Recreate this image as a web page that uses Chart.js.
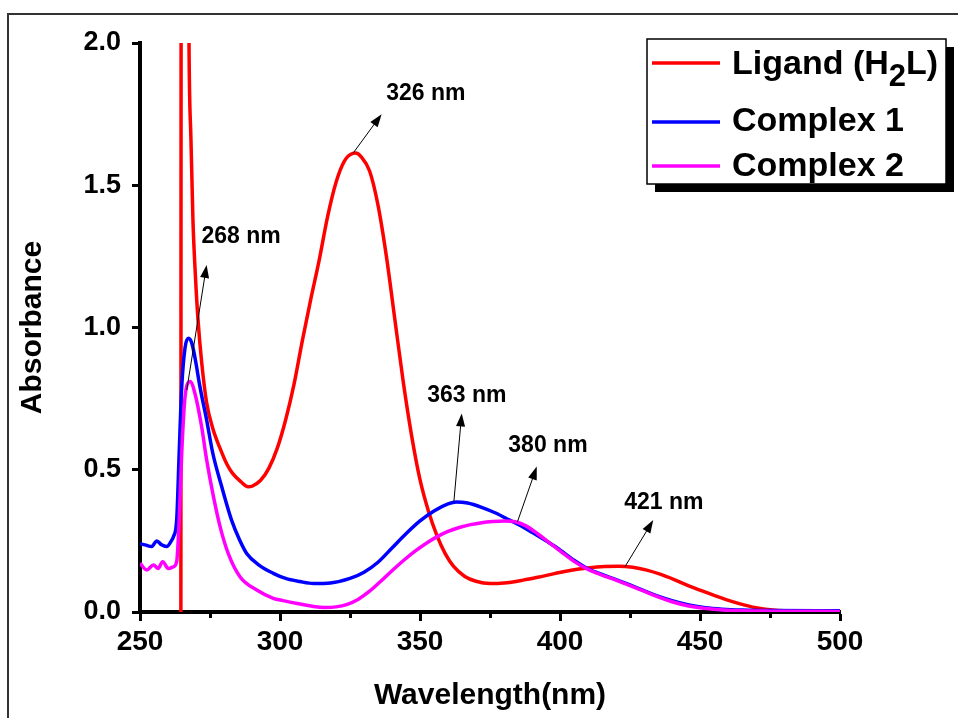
<!DOCTYPE html>
<html>
<head>
<meta charset="utf-8">
<script src="https://cdn.jsdelivr.net/npm/chart.js@4/dist/chart.umd.min.js"></script>
<style>
  html, body { margin: 0; padding: 0; background: #fff; }
  #wrap { width: 958px; height: 718px; position: relative; }
</style>
</head>
<body>
<div id="wrap"><canvas id="c" width="958" height="718"></canvas></div>
<script>
// ---------- Data ----------
const ligandLabel = 'Ligand (H2L)';
const complex1Label = 'Complex 1';
const complex2Label = 'Complex 2';

const ligandX = [264.6, 264.7, 267.2, 267.5, 268.2, 268.9, 269.8, 270.7, 272, 273.8, 276, 278.6, 281, 283, 286, 288.6, 290, 293, 296, 299, 302, 305, 308, 311, 314, 317, 320, 323, 326, 327, 329, 332, 335, 338, 341, 344, 347, 350, 353, 356, 359, 362, 366, 370, 375, 380, 386.8, 392, 398, 404, 410, 416, 421, 426, 431, 436, 441, 446, 451, 456, 461, 466, 471, 476, 485, 500];
const ligandY = [-0.02, 2.6, 2.6, 2.0, 1.66, 1.38, 1.18, 1.03, 0.88, 0.735, 0.645, 0.575, 0.52, 0.488, 0.458, 0.44, 0.442, 0.462, 0.505, 0.575, 0.675, 0.80, 0.955, 1.10, 1.237, 1.39, 1.51, 1.585, 1.612, 1.613, 1.60, 1.55, 1.43, 1.25, 1.03, 0.81, 0.62, 0.465, 0.355, 0.27, 0.205, 0.16, 0.125, 0.108, 0.10, 0.102, 0.112, 0.122, 0.135, 0.147, 0.155, 0.16, 0.161, 0.157, 0.147, 0.132, 0.113, 0.092, 0.073, 0.055, 0.038, 0.024, 0.013, 0.007, 0.003, 0.002];

const complex1X = [250, 251.8, 254.2, 256, 257.7, 259.5, 261.3, 261.9, 263.1, 264, 264.9, 266.1, 267.3, 268.5, 269.8, 271.4, 273.8, 276, 279.2, 282.7, 285.5, 288.1, 292.5, 297.6, 302, 307.1, 312, 318, 325, 330, 335, 340, 345, 350, 355, 360, 363, 367, 372, 377, 382, 386, 390, 395, 399, 405, 410, 415, 420, 425, 430, 435, 440, 446, 452, 458, 465, 475, 500];
const complex1Y = [0.24, 0.236, 0.23, 0.25, 0.236, 0.23, 0.252, 0.264, 0.323, 0.56, 0.79, 0.93, 0.962, 0.945, 0.885, 0.792, 0.675, 0.558, 0.44, 0.323, 0.255, 0.206, 0.165, 0.136, 0.118, 0.107, 0.10, 0.102, 0.118, 0.14, 0.175, 0.225, 0.275, 0.32, 0.355, 0.38, 0.387, 0.383, 0.368, 0.348, 0.323, 0.303, 0.28, 0.25, 0.225, 0.182, 0.152, 0.132, 0.114, 0.095, 0.075, 0.056, 0.04, 0.025, 0.015, 0.01, 0.007, 0.005, 0.004];

const complex2X = [250, 252.4, 254.8, 256.5, 258.1, 260.1, 261.9, 263.1, 264, 264.9, 266.1, 267.9, 269.6, 272, 273.8, 276.2, 278.6, 281.5, 285.7, 291.7, 297.6, 301, 307.1, 312, 316, 320, 324, 328, 332, 336, 340, 344, 348, 352, 356, 360, 364, 368, 372, 376, 380, 384, 388, 392, 396, 400, 405, 410, 415, 420, 425, 430, 435, 440, 446, 452, 458, 465, 475, 500];
const complex2Y = [0.171, 0.148, 0.165, 0.153, 0.177, 0.153, 0.159, 0.177, 0.324, 0.558, 0.757, 0.81, 0.769, 0.652, 0.535, 0.407, 0.30, 0.206, 0.124, 0.077, 0.048, 0.04, 0.028, 0.019, 0.016, 0.018, 0.027, 0.045, 0.073, 0.108, 0.145, 0.18, 0.212, 0.24, 0.264, 0.283, 0.297, 0.307, 0.314, 0.318, 0.32, 0.317, 0.302, 0.275, 0.245, 0.215, 0.178, 0.15, 0.13, 0.112, 0.093, 0.073, 0.053, 0.036, 0.021, 0.012, 0.007, 0.004, 0.003, 0.002];

const xTicks = [250, 300, 350, 400, 450, 500];
const xMinorTicks = [275, 325, 375, 425, 475];
const yTicks = [0.0, 0.5, 1.0, 1.5, 2.0];

// peak annotations: label, text position, arrow tail, arrow head (data units)
const peakLabels = ['268 nm', '326 nm', '363 nm', '380 nm', '421 nm'];
const peakTextX = [286.1, 352.1, 366.7, 395.7, 437.1];
const peakTextY = [1.318, 1.821, 0.762, 0.583, 0.383];
const arrowTailX = [266.7, 326.2, 362.1, 384.8, 423.2];
const arrowTailY = [0.78, 1.614, 0.388, 0.317, 0.159];
const arrowHeadX = [273.8, 336.3, 364.9, 391.7, 433.3];
const arrowHeadY = [1.22, 1.75, 0.698, 0.511, 0.323];

// ---------- Helpers ----------
const pts = (xs, ys) => xs.map((x, i) => ({ x: x, y: ys[i] }));
const FONT = '"Liberation Sans", Arial, Helvetica, sans-serif';

const framePlugin = {
  id: 'frame',
  beforeDraw(chart) {
    const ctx = chart.ctx;
    ctx.save();
    ctx.fillStyle = '#fff';
    ctx.fillRect(0, 0, chart.width, chart.height);
    ctx.strokeStyle = '#333';
    ctx.lineWidth = 2;
    ctx.strokeRect(8, 14, chart.width + 20, chart.height + 20);
    ctx.restore();
  }
};

const extrasPlugin = {
  id: 'extras',
  afterDraw(chart) {
    const ctx = chart.ctx;
    const xs = chart.scales.x, ys = chart.scales.y;
    ctx.save();
    // minor ticks on x axis
    ctx.strokeStyle = '#000';
    ctx.lineWidth = 3;
    const yb = ys.getPixelForValue(0);
    xMinorTicks.forEach(v => {
      const px = Math.round(xs.getPixelForValue(v)) + 0.5;
      ctx.beginPath();
      ctx.moveTo(px, yb);
      ctx.lineTo(px, yb + 6);
      ctx.stroke();
    });
    // arrows + labels
    ctx.fillStyle = '#000';
    ctx.strokeStyle = '#000';
    peakLabels.forEach((lab, i) => {
      const x1 = xs.getPixelForValue(arrowTailX[i]), y1 = ys.getPixelForValue(arrowTailY[i]);
      const x2 = xs.getPixelForValue(arrowHeadX[i]), y2 = ys.getPixelForValue(arrowHeadY[i]);
      const ang = Math.atan2(y2 - y1, x2 - x1);
      const hl = 13, hw = 4.5;
      ctx.lineWidth = 1;
      ctx.beginPath();
      ctx.moveTo(x1, y1);
      ctx.lineTo(x2 - hl * 0.8 * Math.cos(ang), y2 - hl * 0.8 * Math.sin(ang));
      ctx.stroke();
      ctx.beginPath();
      ctx.moveTo(x2, y2);
      ctx.lineTo(x2 - hl * Math.cos(ang) + hw * Math.sin(ang), y2 - hl * Math.sin(ang) - hw * Math.cos(ang));
      ctx.lineTo(x2 - hl * Math.cos(ang) - hw * Math.sin(ang), y2 - hl * Math.sin(ang) + hw * Math.cos(ang));
      ctx.closePath();
      ctx.fill();
      ctx.font = 'bold 23px ' + FONT;
      ctx.textAlign = 'center';
      ctx.textBaseline = 'middle';
      ctx.fillText(lab, xs.getPixelForValue(peakTextX[i]), ys.getPixelForValue(peakTextY[i]));
    });

    // legend box
    const bx = 647, by = 39, bw = 299, bh = 145, sh = 8;
    ctx.fillStyle = '#000';
    ctx.fillRect(bx + sh, by + sh, bw, bh);
    ctx.fillStyle = '#fff';
    ctx.fillRect(bx, by, bw, bh);
    ctx.strokeStyle = '#000';
    ctx.lineWidth = 1.5;
    ctx.strokeRect(bx, by, bw, bh);
    const rows = [63, 122, 166];
    const baselines = [74, 131, 176];
    chart.data.datasets.forEach((ds, i) => {
      ctx.strokeStyle = ds.borderColor;
      ctx.lineWidth = 3.5;
      ctx.beginPath();
      ctx.moveTo(652, rows[i]);
      ctx.lineTo(720, rows[i]);
      ctx.stroke();
      ctx.fillStyle = '#000';
      ctx.textAlign = 'left';
      ctx.textBaseline = 'alphabetic';
      ctx.font = 'bold 34px ' + FONT;
      const label = ds.label;
      const m = label.match(/^(.*H)(2)(L\))$/);
      let tx = 732;
      if (m) {
        ctx.fillText(m[1], tx, baselines[i]);
        tx += ctx.measureText(m[1]).width;
        ctx.font = 'bold 31px ' + FONT;
        ctx.fillText(m[2], tx, baselines[i] + 12);
        tx += ctx.measureText(m[2]).width;
        ctx.font = 'bold 34px ' + FONT;
        ctx.fillText(m[3], tx, baselines[i]);
      } else {
        ctx.fillText(label, tx, baselines[i]);
      }
    });
    ctx.restore();
  }
};

const lineDs = (label, xs, ys, color, order) => ({
  label: label,
  data: pts(xs, ys),
  borderColor: color,
  backgroundColor: color,
  borderWidth: 3.5,
  pointRadius: 0,
  fill: false,
  cubicInterpolationMode: 'monotone',
  order: order
});

new Chart(document.getElementById('c'), {
  type: 'line',
  data: {
    datasets: [
      lineDs(ligandLabel, ligandX, ligandY, '#ff0000', 2),
      lineDs(complex1Label, complex1X, complex1Y, '#0000ff', 1),
      lineDs(complex2Label, complex2X, complex2Y, '#ff00ff', 0)
    ]
  },
  options: {
    responsive: false,
    animation: false,
    devicePixelRatio: 1,
    layout: { padding: { top: 43, right: 118, left: 0, bottom: 0 } },
    plugins: { legend: { display: false }, tooltip: { enabled: false } },
    scales: {
      x: {
        type: 'linear',
        min: 250, max: 500,
        afterBuildTicks: s => { s.ticks = xTicks.map(v => ({ value: v })); },
        afterFit: s => { s.height = 106; },
        ticks: { color: '#000', font: { family: FONT, size: 28, weight: 'bold' }, padding: 4, maxRotation: 0 },
        grid: { display: true, drawOnChartArea: false, drawTicks: true, tickLength: 9, tickWidth: 3, tickColor: '#000' },
        border: { display: true, color: '#000', width: 4 },
        title: { display: true, text: 'Wavelength(nm)', color: '#000', font: { family: FONT, size: 30, weight: 'bold' }, padding: { top: 0, bottom: 4 } }
      },
      y: {
        type: 'linear',
        min: 0, max: 2.0,
        afterBuildTicks: s => { s.ticks = yTicks.map(v => ({ value: v })); },
        afterFit: s => { s.width = 140; },
        ticks: { color: '#000', font: { family: FONT, size: 27, weight: 'bold' }, padding: 11, callback: v => Number(v).toFixed(1) },
        grid: { display: true, drawOnChartArea: false, drawTicks: true, tickLength: 8, tickWidth: 3, tickColor: '#000' },
        border: { display: true, color: '#000', width: 4 },
        title: { display: true, text: 'Absorbance', color: '#000', font: { family: FONT, size: 30, weight: 'bold' }, padding: { top: 15, bottom: 0 } }
      }
    }
  },
  plugins: [framePlugin, extrasPlugin]
});
</script>
</body>
</html>
